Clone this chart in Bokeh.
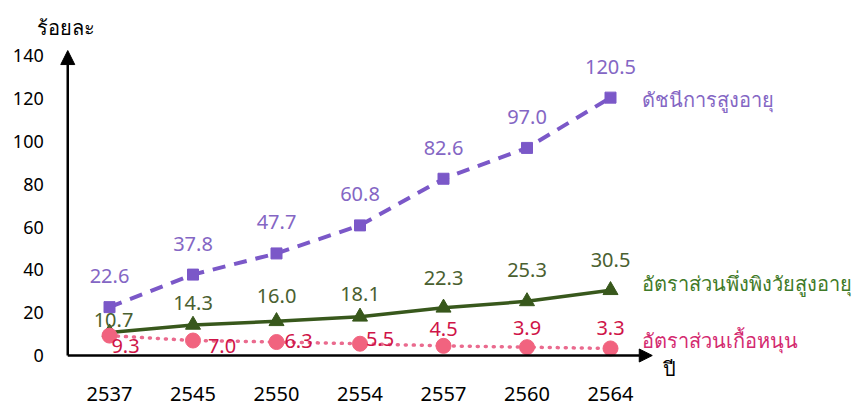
from bokeh.plotting import figure
from bokeh.models import Range1d, Arrow, NormalHead, ColumnDataSource
from bokeh.embed import file_html
from bokeh.resources import INLINE
from bokeh.core.properties import value

# ---- data -------------------------------------------------------------
years = ["2537", "2545", "2550", "2554", "2557", "2560", "2564"]
aging_index = [22.6, 37.8, 47.7, 60.8, 82.6, 97.0, 120.5]
old_age_dependency = [10.7, 14.3, 16.0, 18.1, 22.3, 25.3, 30.5]
support_ratio = [9.3, 7.0, 6.3, 5.5, 4.5, 3.9, 3.3]
y_ticks = [0, 20, 40, 60, 80, 100, 120, 140]

name_aging = "ดัชนีการสูงอายุ"
name_dependency = "อัตราส่วนพึ่งพิงวัยสูงอายุ"
name_support = "อัตราส่วนเกื้อหนุน"
y_title = "ร้อยละ"
x_title = "ปี"

# ---- layout: the plotting frame fills the whole canvas ----------------
W, H = 857, 407
PX_PER_UNIT = 2.14        # vertical pixels per percent
ZERO_PX = 355             # canvas row of the zero line
FIRST_PX = 109            # canvas column of the first year
STEP_PX = 83.5            # distance between years

y_end = ZERO_PX / PX_PER_UNIT
y_start = y_end - H / PX_PER_UNIT
x_start = -FIRST_PX / STEP_PX
x_end = x_start + W / STEP_PX

FONT = value("Noto Sans")

p = figure(width=W, height=H, output_backend="svg", toolbar_location=None,
           x_range=Range1d(x_start, x_end), y_range=Range1d(y_start, y_end),
           min_border=0)
p.outline_line_color = None
p.grid.visible = False
p.xaxis.visible = False
p.yaxis.visible = False

xs = list(range(len(years)))
axis_left = -0.5
axis_right = len(years) - 0.5
axis_top = 142.5

# ---- axes with arrow heads --------------------------------------------
p.add_layout(Arrow(end=NormalHead(size=14, fill_color="black", line_color="black"),
                   x_start=axis_left, y_start=0, x_end=axis_left, y_end=axis_top,
                   line_color="black", line_width=2.5))
p.add_layout(Arrow(end=NormalHead(size=13, fill_color="black", line_color="black"),
                   x_start=axis_left, y_start=0, x_end=axis_right, y_end=0,
                   line_color="black", line_width=2.5))

# tick labels
p.text(xs, [0] * len(xs), text=years, y_offset=38,
       text_font=FONT, text_font_size="20px", text_color="black",
       text_align="center", text_baseline="middle")
p.text([axis_left] * len(y_ticks), y_ticks, text=[str(t) for t in y_ticks], x_offset=-24,
       text_font=FONT, text_font_size="18px", text_color="black",
       text_align="right", text_baseline="middle")

# axis titles
p.text([axis_right], [0], text=[x_title], x_offset=11, y_offset=13,
       text_font=FONT, text_font_size="20px", text_color="black",
       text_align="left", text_baseline="middle")
p.text([axis_left], [axis_top], text=[y_title], x_offset=-2, y_offset=-23,
       text_font=FONT, text_font_size="20px", text_color="black",
       text_align="center", text_baseline="middle")

# ---- series -----------------------------------------------------------
PURPLE, PURPLE_TXT = "#7b58c8", "#8466c4"
GREEN, GREEN_TXT, GREEN_NAME = "#38581c", "#4a6030", "#3f7a28"
PINK, PINK_LINE, PINK_TXT, PINK_NAME = "#f1637f", "#ea6a8e", "#cf1448", "#d42a70"

p.line(xs, aging_index, line_color=PURPLE, line_width=4, line_dash="13 9")
p.scatter(xs, aging_index, marker="square", size=11, fill_color=PURPLE, line_color=PURPLE)

p.line(xs, old_age_dependency, line_color=GREEN, line_width=3.5)
p.scatter(xs, old_age_dependency, marker="triangle", size=15, fill_color=GREEN, line_color=GREEN)

p.line(xs, support_ratio, line_color=PINK_LINE, line_width=3.5, line_dash="1 7", line_cap="round")
p.scatter(xs, support_ratio, marker="circle", size=15, fill_color=PINK, line_color=PINK)

# ---- value labels -----------------------------------------------------
def value_labels(vals, color, dx, dy):
    src = ColumnDataSource(dict(x=xs, y=vals, t=[f"{v:.1f}" for v in vals], dx=dx, dy=dy))
    p.text("x", "y", text="t", x_offset="dx", y_offset="dy", source=src,
           text_font=FONT, text_font_size="20px", text_color=color,
           text_align="center", text_baseline="middle")

value_labels(aging_index, PURPLE_TXT, [0] * 7, [-31] * 7)
value_labels(old_age_dependency, GREEN_TXT, [4, 0, 0, 0, 0, 0, 0], [-13, -22, -25, -23, -30, -31, -30])
value_labels(support_ratio, PINK_TXT, [16, 29, 22, 20, 0, 0, 0], [10, 5, -1, -5, -17, -19, -20])

# ---- series names -----------------------------------------------------
last = xs[-1]
names = ColumnDataSource(dict(
    x=[last, last, last],
    y=[aging_index[-1], old_age_dependency[-1], support_ratio[-1]],
    t=[name_aging, name_dependency, name_support],
    c=[PURPLE_TXT, GREEN_NAME, PINK_NAME],
    dy=[2, -7, -8],
))
p.text("x", "y", text="t", text_color="c", y_offset="dy", x_offset=31, source=names,
       text_font=FONT, text_font_size="20px", text_align="left", text_baseline="middle")

open("out.html", "w").write(file_html(p, INLINE))
